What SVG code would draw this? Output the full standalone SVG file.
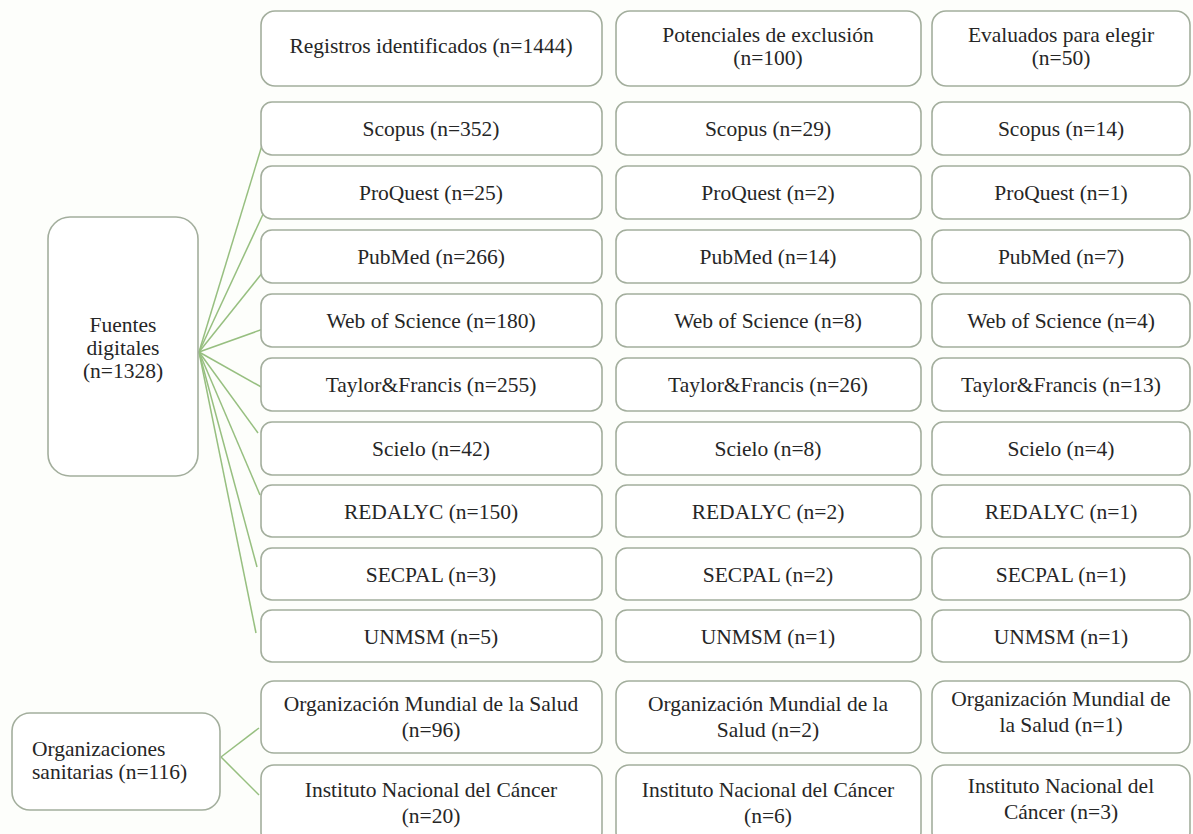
<svg xmlns="http://www.w3.org/2000/svg" width="1193" height="834" viewBox="0 0 1193 834">
<style>
.b{fill:#ffffff;stroke:#a3ae9d;stroke-width:1.6}
.l{text-anchor:start}
.c{stroke:#97bf80;stroke-width:1.5;fill:none}
</style>
<rect width="1193" height="834" fill="#fdfefb"/>
<g id="connectors">
<line class="c" x1="199" y1="352" x2="263" y2="142"/>
<line class="c" x1="199" y1="352" x2="265" y2="210"/>
<line class="c" x1="199" y1="352" x2="263" y2="272"/>
<line class="c" x1="199" y1="352" x2="266" y2="328"/>
<line class="c" x1="199" y1="352" x2="263" y2="388"/>
<line class="c" x1="199" y1="352" x2="258" y2="433"/>
<line class="c" x1="199" y1="352" x2="260" y2="495"/>
<line class="c" x1="199" y1="352" x2="257" y2="567"/>
<line class="c" x1="199" y1="352" x2="256" y2="633"/>
<line class="c" x1="221" y1="757" x2="259" y2="728"/>
<line class="c" x1="221" y1="757" x2="259" y2="795"/>
</g>
<g font-family="Liberation Serif, DejaVu Serif, serif" font-size="21.5" fill="#262626" text-anchor="middle">
<g id="fuentes"><rect class="b" x="48" y="217" width="150" height="259" rx="22"/>
<text x="123" y="332">Fuentes</text><text x="123" y="355">digitales</text><text x="123" y="378">(n=1328)</text></g>
<g id="organizaciones"><rect class="b" x="12" y="713" width="208" height="97" rx="18"/>
<text class="l" x="32" y="756">Organizaciones</text><text class="l" x="32" y="779">sanitarias (n=116)</text></g>

<g id="h1"><rect class="b" x="261" y="11" width="341" height="75" rx="14"/><text x="431" y="53">Registros identificados (n=1444)</text></g>
<g id="h2"><rect class="b" x="616" y="11" width="305" height="75" rx="14"/><text x="768" y="42">Potenciales de exclusión</text><text x="768" y="65">(n=100)</text></g>
<g id="h3"><rect class="b" x="932" y="11" width="258" height="75" rx="14"/><text x="1061" y="42">Evaluados para elegir</text><text x="1061" y="65">(n=50)</text></g>

<g id="r1c1"><rect class="b" x="261" y="102" width="341" height="53" rx="11"/><text x="431" y="136">Scopus (n=352)</text></g>
<g id="r1c2"><rect class="b" x="616" y="102" width="305" height="53" rx="11"/><text x="768" y="136">Scopus (n=29)</text></g>
<g id="r1c3"><rect class="b" x="932" y="102" width="258" height="53" rx="11"/><text x="1061" y="136">Scopus (n=14)</text></g>

<g id="r2c1"><rect class="b" x="261" y="166" width="341" height="53" rx="11"/><text x="431" y="200">ProQuest (n=25)</text></g>
<g id="r2c2"><rect class="b" x="616" y="166" width="305" height="53" rx="11"/><text x="768" y="200">ProQuest (n=2)</text></g>
<g id="r2c3"><rect class="b" x="932" y="166" width="258" height="53" rx="11"/><text x="1061" y="200">ProQuest (n=1)</text></g>

<g id="r3c1"><rect class="b" x="261" y="230" width="341" height="53" rx="11"/><text x="431" y="264">PubMed (n=266)</text></g>
<g id="r3c2"><rect class="b" x="616" y="230" width="305" height="53" rx="11"/><text x="768" y="264">PubMed (n=14)</text></g>
<g id="r3c3"><rect class="b" x="932" y="230" width="258" height="53" rx="11"/><text x="1061" y="264">PubMed (n=7)</text></g>

<g id="r4c1"><rect class="b" x="261" y="294" width="341" height="53" rx="11"/><text x="431" y="328">Web of Science (n=180)</text></g>
<g id="r4c2"><rect class="b" x="616" y="294" width="305" height="53" rx="11"/><text x="768" y="328">Web of Science (n=8)</text></g>
<g id="r4c3"><rect class="b" x="932" y="294" width="258" height="53" rx="11"/><text x="1061" y="328">Web of Science (n=4)</text></g>

<g id="r5c1"><rect class="b" x="261" y="358" width="341" height="53" rx="11"/><text x="431" y="392">Taylor&amp;Francis (n=255)</text></g>
<g id="r5c2"><rect class="b" x="616" y="358" width="305" height="53" rx="11"/><text x="768" y="392">Taylor&amp;Francis (n=26)</text></g>
<g id="r5c3"><rect class="b" x="932" y="358" width="258" height="53" rx="11"/><text x="1061" y="392">Taylor&amp;Francis (n=13)</text></g>

<g id="r6c1"><rect class="b" x="261" y="422" width="341" height="53" rx="11"/><text x="431" y="456">Scielo (n=42)</text></g>
<g id="r6c2"><rect class="b" x="616" y="422" width="305" height="53" rx="11"/><text x="768" y="456">Scielo (n=8)</text></g>
<g id="r6c3"><rect class="b" x="932" y="422" width="258" height="53" rx="11"/><text x="1061" y="456">Scielo (n=4)</text></g>

<g id="r7c1"><rect class="b" x="261" y="485" width="341" height="52" rx="11"/><text x="431" y="519">REDALYC (n=150)</text></g>
<g id="r7c2"><rect class="b" x="616" y="485" width="305" height="52" rx="11"/><text x="768" y="519">REDALYC (n=2)</text></g>
<g id="r7c3"><rect class="b" x="932" y="485" width="258" height="52" rx="11"/><text x="1061" y="519">REDALYC (n=1)</text></g>

<g id="r8c1"><rect class="b" x="261" y="548" width="341" height="52" rx="11"/><text x="431" y="582">SECPAL (n=3)</text></g>
<g id="r8c2"><rect class="b" x="616" y="548" width="305" height="52" rx="11"/><text x="768" y="582">SECPAL (n=2)</text></g>
<g id="r8c3"><rect class="b" x="932" y="548" width="258" height="52" rx="11"/><text x="1061" y="582">SECPAL (n=1)</text></g>

<g id="r9c1"><rect class="b" x="261" y="610" width="341" height="52" rx="11"/><text x="431" y="644">UNMSM (n=5)</text></g>
<g id="r9c2"><rect class="b" x="616" y="610" width="305" height="52" rx="11"/><text x="768" y="644">UNMSM (n=1)</text></g>
<g id="r9c3"><rect class="b" x="932" y="610" width="258" height="52" rx="11"/><text x="1061" y="644">UNMSM (n=1)</text></g>

<g id="r10c1"><rect class="b" x="261" y="681" width="341" height="72" rx="13"/><text x="431" y="711">Organización Mundial de la Salud</text><text x="431" y="737">(n=96)</text></g>
<g id="r10c2"><rect class="b" x="616" y="681" width="305" height="72" rx="13"/><text x="768" y="711">Organización Mundial de la</text><text x="768" y="737">Salud (n=2)</text></g>
<g id="r10c3"><rect class="b" x="932" y="681" width="258" height="72" rx="13"/><text x="1061" y="706">Organización Mundial de</text><text x="1061" y="732">la Salud (n=1)</text></g>

<g id="r11c1"><rect class="b" x="261" y="765" width="341" height="80" rx="13"/><text x="431" y="797">Instituto Nacional del Cáncer</text><text x="431" y="823">(n=20)</text></g>
<g id="r11c2"><rect class="b" x="616" y="765" width="305" height="80" rx="13"/><text x="768" y="797">Instituto Nacional del Cáncer</text><text x="768" y="823">(n=6)</text></g>
<g id="r11c3"><rect class="b" x="932" y="765" width="258" height="80" rx="13"/><text x="1061" y="793">Instituto Nacional del</text><text x="1061" y="819">Cáncer (n=3)</text></g>
</g>
</svg>
